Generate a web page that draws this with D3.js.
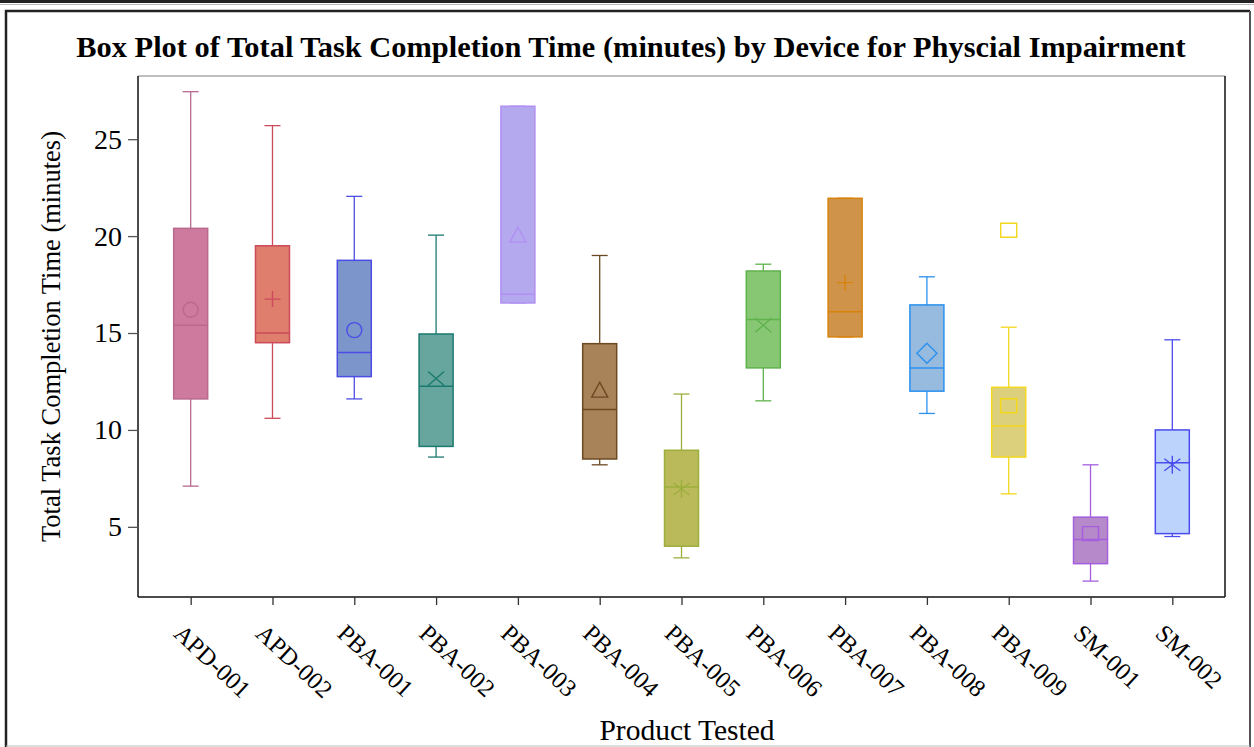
<!DOCTYPE html>
<html>
<head>
<meta charset="utf-8">
<script src="https://cdn.jsdelivr.net/npm/d3@7"></script>
<style>
  body { margin: 0; background: #fff; }
  svg { display: block; }
  text { font-family: "Liberation Serif", "Times New Roman", serif; fill: #000; }
</style>
</head>
<body>
<script>
// data
const categories = ['APD-001', 'APD-002', 'PBA-001', 'PBA-002', 'PBA-003', 'PBA-004', 'PBA-005',
                    'PBA-006', 'PBA-007', 'PBA-008', 'PBA-009', 'SM-001', 'SM-002'];
const whiskerLow  = [7.1, 10.6, 11.6, 8.6, 16.55, 8.2, 3.4, 11.5, 14.8, 10.85, 6.7, 2.2, 4.5];
const q1          = [11.6, 14.5, 12.75, 9.15, 16.55, 8.5, 4.0, 13.2, 14.8, 12.0, 8.6, 3.1, 4.65];
const medians     = [15.4, 15.0, 14.0, 12.25, 17.0, 11.05, 7.05, 15.7, 16.1, 13.2, 10.2, 4.35, 8.3];
const q3          = [20.4, 19.5, 18.75, 14.95, 26.7, 14.45, 8.95, 18.2, 21.95, 16.45, 12.2, 5.5, 10.0];
const whiskerHigh = [27.45, 25.7, 22.05, 20.05, 26.7, 19.0, 11.85, 18.55, 21.95, 17.9, 15.3, 8.2, 14.65];
const means       = [16.2, 16.75, 15.15, 12.65, 20.0, 12.0, 6.95, 15.4, 17.6, 13.95, 11.25, 4.65, 8.2];
const outliers    = [[], [], [], [], [], [], [], [], [], [], [20.3], [], []];
const meanMarkers = ['circle', 'plus', 'circle', 'x', 'triangle', 'triangle', 'asterisk',
                     'x', 'plus', 'diamond', 'square', 'square', 'asterisk'];
const yTicks = [5, 10, 15, 20, 25];

const fillColors = ['#cd7a9e', '#e07e6e', '#7c96cc', '#66a69e', '#b4a9ef', '#a8835a', '#baba5a',
                    '#87c773', '#cf944a', '#97badf', '#ddd07d', '#b689ca', '#bcd4fc'];
const lineColors = ['#b9688f', '#cc4a5a', '#4d4de6', '#1a7a6e', '#b190f2', '#6b4a22', '#9cae3c',
                    '#5fb24c', '#d8820c', '#2b90ee', '#f4d81c', '#a45ede', '#4b4bee'];

const w = 1254, h = 747;
const plotLeft = 138, plotRight = 1225, plotTop = 76, plotBottom = 597;

const svg = d3.select('body').append('svg')
    .attr('width', w)
    .attr('height', h);

svg.append('rect').attr('width', w).attr('height', h).attr('fill', '#fff');

// page frame
svg.append('line').attr('x1', 0).attr('x2', w).attr('y1', 1.5).attr('y2', 1.5)
    .attr('stroke', '#222').attr('stroke-width', 3);
svg.append('line').attr('x1', 0).attr('x2', w).attr('y1', 4.5).attr('y2', 4.5)
    .attr('stroke', '#bbb').attr('stroke-width', 1);
svg.append('path')
    .attr('d', `M6,${h} V11 H1250`)
    .attr('fill', 'none').attr('stroke', '#222').attr('stroke-width', 2.5);
svg.append('line').attr('x1', 1250).attr('x2', 1250).attr('y1', 11).attr('y2', h)
    .attr('stroke', '#555').attr('stroke-width', 2);
svg.append('line').attr('x1', 6).attr('x2', 1250).attr('y1', h - 1).attr('y2', h - 1)
    .attr('stroke', '#bbb').attr('stroke-width', 1);

let x = d3.scalePoint()
    .domain(categories)
    .range([plotLeft, plotRight])
    .padding(0.644);

let y = d3.scaleLinear()
    .domain([1.38, 28.26])
    .range([plotBottom, plotTop]);

// plot frame: top in gray, right in black
svg.append('line').attr('x1', plotLeft).attr('x2', plotRight).attr('y1', plotTop).attr('y2', plotTop)
    .attr('stroke', '#aaa').attr('stroke-width', 1.5);
svg.append('line').attr('x1', plotRight).attr('x2', plotRight).attr('y1', plotTop).attr('y2', plotBottom)
    .attr('stroke', '#111').attr('stroke-width', 1.5);

const boxW = 34, capW = 16;

const boxes = svg.append('g').selectAll('g')
    .data(categories)
    .enter()
    .append('g');

// whiskers
boxes.append('line')
    .attr('x1', d => x(d)).attr('x2', d => x(d))
    .attr('y1', (d, i) => y(whiskerHigh[i]))
    .attr('y2', (d, i) => y(whiskerLow[i]))
    .attr('stroke', (d, i) => lineColors[i]).attr('stroke-width', 1.3);
boxes.append('line')
    .attr('x1', d => x(d) - capW / 2).attr('x2', d => x(d) + capW / 2)
    .attr('y1', (d, i) => y(whiskerHigh[i])).attr('y2', (d, i) => y(whiskerHigh[i]))
    .attr('stroke', (d, i) => lineColors[i]).attr('stroke-width', 1.3);
boxes.append('line')
    .attr('x1', d => x(d) - capW / 2).attr('x2', d => x(d) + capW / 2)
    .attr('y1', (d, i) => y(whiskerLow[i])).attr('y2', (d, i) => y(whiskerLow[i]))
    .attr('stroke', (d, i) => lineColors[i]).attr('stroke-width', 1.3);

// box
boxes.append('rect')
    .attr('x', d => x(d) - boxW / 2)
    .attr('width', boxW)
    .attr('y', (d, i) => y(q3[i]))
    .attr('height', (d, i) => y(q1[i]) - y(q3[i]))
    .attr('fill', (d, i) => fillColors[i])
    .attr('stroke', (d, i) => lineColors[i])
    .attr('stroke-width', 1.5);

// median
boxes.append('line')
    .attr('x1', d => x(d) - boxW / 2).attr('x2', d => x(d) + boxW / 2)
    .attr('y1', (d, i) => y(medians[i])).attr('y2', (d, i) => y(medians[i]))
    .attr('stroke', (d, i) => lineColors[i]).attr('stroke-width', 1.5);

const markerPath = {
    circle: 'M-7.5,0A7.5,7.5 0 1,0 7.5,0A7.5,7.5 0 1,0 -7.5,0Z',
    plus: 'M-8,0H8M0,-8V8',
    x: 'M-8,-7L8,7M-8,7L8,-7',
    triangle: 'M0,-9L8,6H-8Z',
    diamond: 'M0,-10L10,0L0,10L-10,0Z',
    square: 'M-8,-7H8V7H-8Z',
    asterisk: 'M-8,-6L8,6M-8,6L8,-6M0,-9V9'
};

// mean markers
boxes.append('path')
    .attr('transform', (d, i) => `translate(${x(d)},${y(means[i])})`)
    .attr('d', (d, i) => markerPath[meanMarkers[i]])
    .attr('fill', 'none')
    .attr('stroke', (d, i) => lineColors[i])
    .attr('stroke-width', 1.4);

// outliers
boxes.each(function (d, i) {
    d3.select(this).selectAll('.outlier')
        .data(outliers[i])
        .enter()
        .append('path')
        .attr('class', 'outlier')
        .attr('transform', v => `translate(${x(d)},${y(v)})`)
        .attr('d', markerPath[meanMarkers[i]])
        .attr('fill', 'none')
        .attr('stroke', lineColors[i])
        .attr('stroke-width', 1.4);
});

// axes
let yAxis = svg.append('g')
    .attr('transform', `translate(${plotLeft},0)`)
    .call(d3.axisLeft(y).tickValues(yTicks).tickSize(10).tickPadding(6));
yAxis.select('.domain').attr('stroke', '#111').attr('stroke-width', 1.5)
    .attr('d', `M0,${plotTop}V${plotBottom}`);
yAxis.selectAll('.tick line').attr('stroke', '#555').attr('stroke-width', 1.3);
yAxis.selectAll('.tick text').style('font-size', '28px').style('font-family', '"Liberation Serif", serif');

let xAxis = svg.append('g')
    .attr('transform', `translate(0,${plotBottom})`)
    .call(d3.axisBottom(x).tickSize(8).tickSizeOuter(0));
xAxis.select('.domain').attr('stroke', '#111').attr('stroke-width', 1.5)
    .attr('d', `M${plotLeft},0H${plotRight}`);
xAxis.selectAll('.tick line').attr('stroke', '#333').attr('stroke-width', 1.3);
xAxis.selectAll('.tick text')
    .style('font-size', '24.5px')
    .style('font-family', '"Liberation Serif", serif')
    .attr('text-anchor', 'start')
    .attr('dominant-baseline', 'central')
    .attr('y', 0).attr('dy', 0)
    .attr('transform', 'translate(-13,32) rotate(43)');

// titles
svg.append('text')
    .attr('x', 631).attr('y', 57)
    .attr('text-anchor', 'middle')
    .style('font-size', '30.4px').style('font-weight', 'bold')
    .text('Box Plot of Total Task Completion Time (minutes) by Device for Physcial Impairment');

svg.append('text')
    .attr('transform', `translate(60,${(plotTop + plotBottom) / 2}) rotate(-90)`)
    .attr('text-anchor', 'middle')
    .style('font-size', '26.5px')
    .text('Total Task Completion Time (minutes)');

svg.append('text')
    .attr('x', 687).attr('y', 740)
    .attr('text-anchor', 'middle')
    .style('font-size', '29.5px')
    .text('Product Tested');
</script>
</body>
</html>
